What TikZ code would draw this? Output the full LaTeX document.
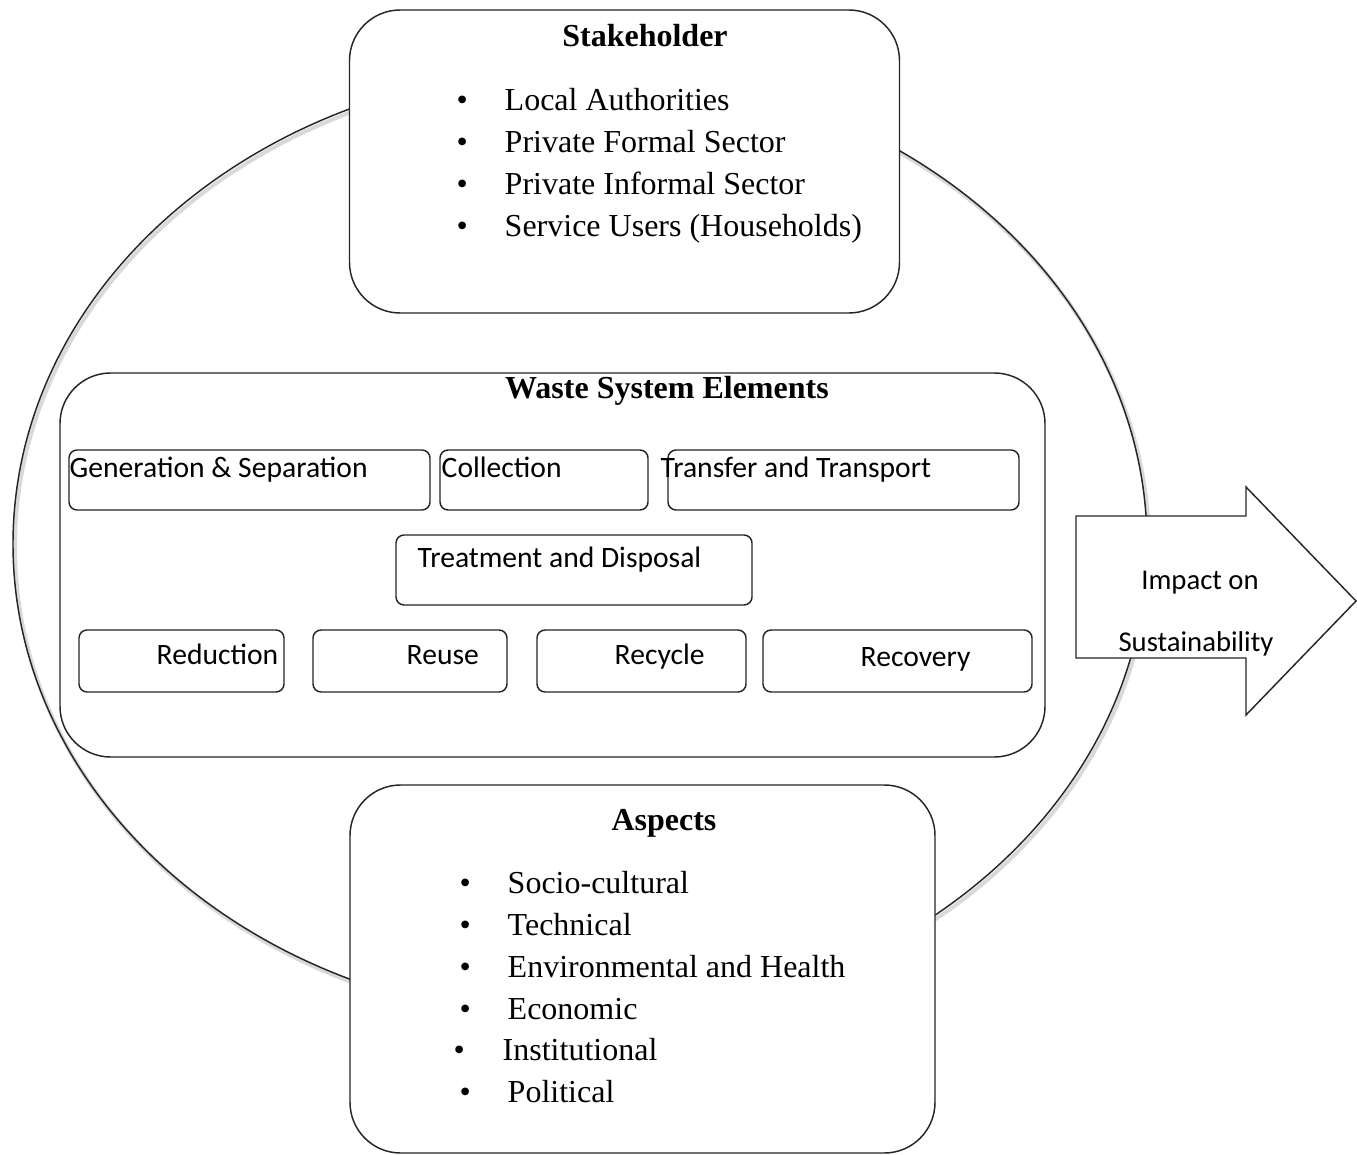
\documentclass[tikz,border=0pt]{standalone}
\usepackage{fontspec}
\setmainfont{Liberation Serif}
\newfontfamily\calfont{Carlito}
\begin{document}
\begin{tikzpicture}[x=0.75pt,y=-0.75pt,
  line width=1.1pt,
  bigbox/.style={draw=black!85,fill=white,rounded corners=38pt,inner sep=0pt},
  smallbox/.style={draw=black!85,fill=white,rounded corners=6pt,inner sep=0pt},
  serif/.style={font=\fontsize{24}{28}\selectfont,inner sep=0pt,anchor=base west},
  titletxt/.style={font=\fontsize{24}{28}\selectfont\bfseries,inner sep=0pt,anchor=base},
  bul/.style={font=\fontsize{24}{28}\selectfont,inner sep=0pt,anchor=base west},
  sans/.style={font=\calfont\fontsize{22.2}{26}\selectfont,inner sep=0pt,anchor=base west},
  sansc/.style={font=\calfont\fontsize{21.5}{25}\selectfont,inner sep=0pt,anchor=base}
]
\useasboundingbox (0,0) rectangle (1357,1155);
% outer ellipse with faint shadow
\draw[black!15,line width=3pt] (582,547) ellipse [x radius=425.25pt, y radius=357pt];
\draw[black!85] (580,544) ellipse [x radius=425.25pt, y radius=357pt];

% arrow
\draw[black!85,fill=white,line join=miter] (1076,516) -- (1246,516) -- (1246,487) -- (1356,601) -- (1246,715) -- (1246,658) -- (1076,658) -- cycle;
\node[sansc] (imp1) at (1200,589) {Impact on};
\node[sansc] (imp2) at (1196,651) {Sustainability};

% Stakeholder box
\node[bigbox,minimum width=550*0.75pt,minimum height=303*0.75pt] (stake) at (624.5,161.5) {};
\node[titletxt] (staket) at (645,47) {Stakeholder};
\foreach \t [count=\i] in {Local Authorities,Private Formal Sector,Private Informal Sector,Service Users (Households)}{
  \node[bul] (sb\i) at (456,69+42*\i) {\textbullet};
  \node[serif] (st\i) at (504,69+42*\i) {\t};
}

% Waste system box
\node[bigbox,minimum width=985*0.75pt,minimum height=384*0.75pt] (waste) at (552.5,565) {};
\node[titletxt] (wastet) at (667,399) {Waste System Elements};

\node[smallbox,minimum width=361*0.75pt,minimum height=60*0.75pt] (gen) at (249.5,480) {};
\node[sans] (gent) at (69,478) {Generation \& Separation};
\node[smallbox,minimum width=208*0.75pt,minimum height=60*0.75pt] (col) at (544,480) {};
\node[sans] (colt) at (441,478) {Collection};
\node[smallbox,minimum width=351*0.75pt,minimum height=60*0.75pt] (tra) at (843.5,480) {};
\node[sans] (trat) at (660,478) {Transfer and Transport};
\node[smallbox,minimum width=356*0.75pt,minimum height=70*0.75pt] (trd) at (574,570) {};
\node[sans] (trdt) at (417,567) {Treatment and Disposal};

\node[smallbox,minimum width=205*0.75pt,minimum height=62*0.75pt] (red) at (181.5,661) {};
\node[sans] (redt) at (156,664) {Reduction};
\node[smallbox,minimum width=194*0.75pt,minimum height=62*0.75pt] (reu) at (410,661) {};
\node[sans] (reut) at (406,664) {Reuse};
\node[smallbox,minimum width=209*0.75pt,minimum height=62*0.75pt] (rec) at (641.5,661) {};
\node[sans] (rect) at (614,664) {Recycle};
\node[smallbox,minimum width=269*0.75pt,minimum height=62*0.75pt] (rcv) at (897.5,661) {};
\node[sans] (rcvt) at (860,666) {Recovery};

% Aspects box
\node[bigbox,minimum width=585*0.75pt,minimum height=368*0.75pt] (asp) at (642.5,969) {};
\node[titletxt] (aspt) at (664,830) {Aspects};
\node[bul] (ab1) at (459,893) {\textbullet};
\node[serif] (at1) at (507,893) {Socio-cultural};
\node[bul] (ab2) at (459,935) {\textbullet};
\node[serif] (at2) at (507,935) {Technical};
\node[bul] (ab3) at (459,977) {\textbullet};
\node[serif] (at3) at (507,977) {Environmental and Health};
\node[bul] (ab4) at (459,1019) {\textbullet};
\node[serif] (at4) at (507,1019) {Economic};
\node[bul] (ab5) at (453,1060) {\textbullet};
\node[serif] (at5) at (502,1060) {Institutional};
\node[bul] (ab6) at (459,1102) {\textbullet};
\node[serif] (at6) at (507,1102) {Political};
\end{tikzpicture}
\end{document}
